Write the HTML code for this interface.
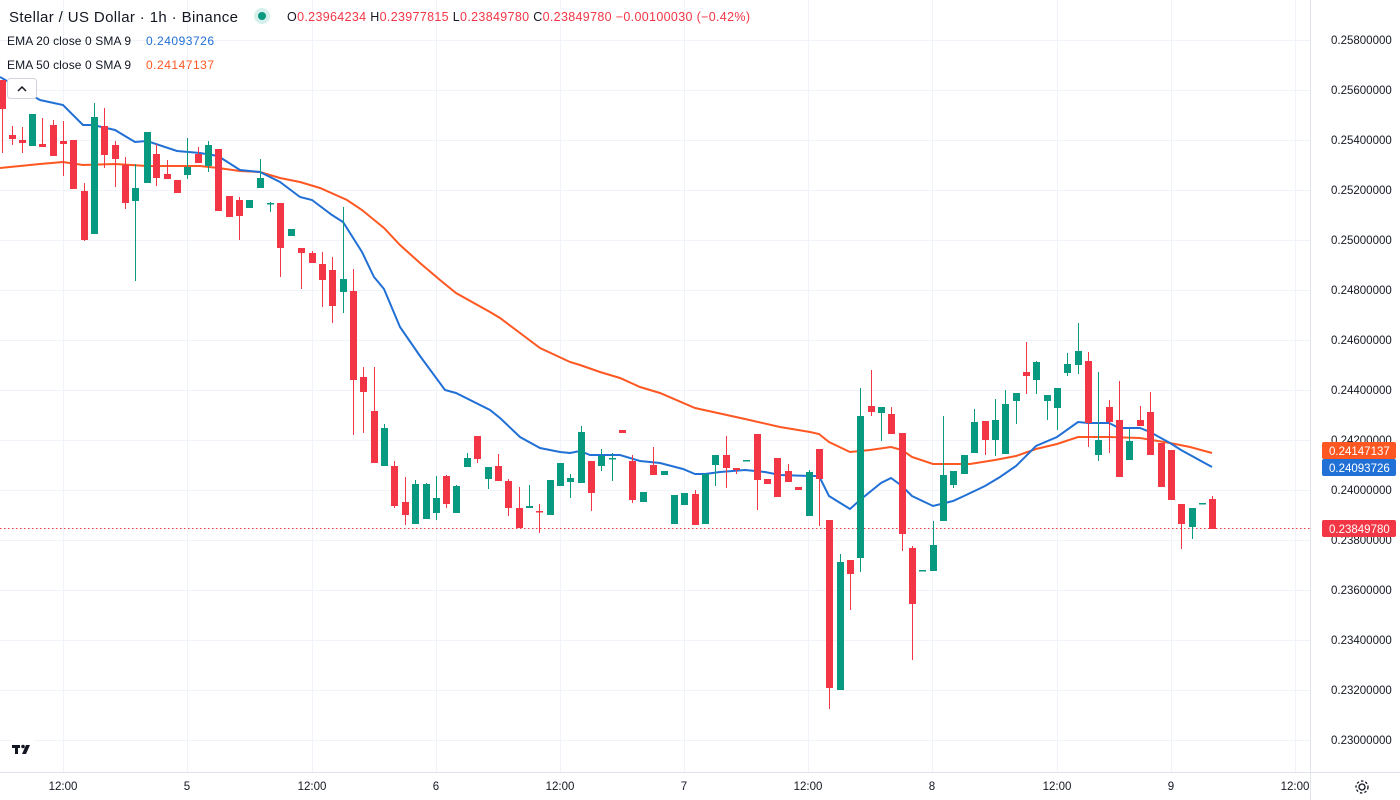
<!DOCTYPE html>
<html><head><meta charset="utf-8"><style>
html,body{margin:0;padding:0;background:#fff;}
svg{display:block;font-family:"Liberation Sans",sans-serif;}
</style></head><body>
<svg width="1400" height="800" viewBox="0 0 1400 800" xmlns="http://www.w3.org/2000/svg">
<rect width="1400" height="800" fill="#fff"/>
<g stroke="#f0f3fa" stroke-width="1">
<line x1="0" y1="40.5" x2="1310" y2="40.5"/><line x1="0" y1="90.5" x2="1310" y2="90.5"/><line x1="0" y1="140.5" x2="1310" y2="140.5"/><line x1="0" y1="190.5" x2="1310" y2="190.5"/><line x1="0" y1="240.5" x2="1310" y2="240.5"/><line x1="0" y1="290.5" x2="1310" y2="290.5"/><line x1="0" y1="340.5" x2="1310" y2="340.5"/><line x1="0" y1="390.5" x2="1310" y2="390.5"/><line x1="0" y1="440.5" x2="1310" y2="440.5"/><line x1="0" y1="490.5" x2="1310" y2="490.5"/><line x1="0" y1="540.5" x2="1310" y2="540.5"/><line x1="0" y1="590.5" x2="1310" y2="590.5"/><line x1="0" y1="640.5" x2="1310" y2="640.5"/><line x1="0" y1="690.5" x2="1310" y2="690.5"/><line x1="0" y1="740.5" x2="1310" y2="740.5"/>
<line x1="63.5" y1="0" x2="63.5" y2="772"/><line x1="187.5" y1="0" x2="187.5" y2="772"/><line x1="312.5" y1="0" x2="312.5" y2="772"/><line x1="436.5" y1="0" x2="436.5" y2="772"/><line x1="560.5" y1="0" x2="560.5" y2="772"/><line x1="684.5" y1="0" x2="684.5" y2="772"/><line x1="808.5" y1="0" x2="808.5" y2="772"/><line x1="932.5" y1="0" x2="932.5" y2="772"/><line x1="1057.5" y1="0" x2="1057.5" y2="772"/><line x1="1171.5" y1="0" x2="1171.5" y2="772"/><line x1="1295.5" y1="0" x2="1295.5" y2="772"/>
</g>
<line x1="1310.5" y1="0" x2="1310.5" y2="800" stroke="#e0e3eb"/>
<line x1="0" y1="772.5" x2="1400" y2="772.5" stroke="#e0e3eb"/>
<line x1="0" y1="528.5" x2="1310" y2="528.5" stroke="#f23645" stroke-dasharray="1.5,2.5"/>

<polyline fill="none" stroke="#ff5722" stroke-width="2" points="0,168 40,164 63,162 83,165 115,164 147,166 200,166 218,168 240,171 260,172 280,178 300,182 320,188 347,200 362,210 384,228 400,245 420,263 440,280 456,293 490,312 500,318 520,333 540,348 570,362 580,365 600,372 620,378 640,387 660,393 695,408 745,419 780,427 810,432 819,434 829,442 850,452 870,450 891,447 902,450 912,457 933,464 970,464 995,460 1016,456 1036,449 1057,444 1078,437 1109,437 1140,438 1170,443 1190,447 1212,453"/>
<polyline fill="none" stroke="#2170d6" stroke-width="2" points="0,77 40,100 63,105 83,125 93,125 115,130 135,142 147,141 177,151 200,153 218,156 240,170 260,172 280,182 300,197 312,200 332,215 343,222 362,252 374,277 384,289 400,327 420,356 445,390 456,393 490,410 500,418 520,437 540,448 560,452 570,453 580,451 590,455 620,455 640,461 660,463 683,469 695,474 705,474 720,472 745,470 765,472 780,475 810,476 819,476 829,496 850,509 860,500 881,483 891,478 902,486 912,496 933,506 953,501 964,496 985,486 1000,477 1016,466 1036,446 1057,437 1078,422 1088,423 1109,423 1119,428 1140,428 1150,432 1170,443 1181,450 1212,467"/>

<g id="c">
<g fill="#f23645" stroke="#f23645">
<line x1="2.5" y1="80" x2="2.5" y2="153"/><rect x="-1" y="80" width="7" height="29" stroke="none"/>
<line x1="12.5" y1="126" x2="12.5" y2="145"/><rect x="9" y="135" width="7" height="4" stroke="none"/>
<line x1="22.5" y1="127" x2="22.5" y2="153"/><rect x="19" y="140" width="7" height="3" stroke="none"/>
<line x1="42.5" y1="118" x2="42.5" y2="147"/><rect x="39" y="144" width="7" height="3" stroke="none"/>
<line x1="53.5" y1="120" x2="53.5" y2="156"/><rect x="50" y="125" width="7" height="31" stroke="none"/>
<line x1="63.5" y1="121" x2="63.5" y2="176"/><rect x="60" y="141" width="7" height="3" stroke="none"/>
<rect x="70" y="140" width="7" height="49" stroke="none"/>
<line x1="84.5" y1="183" x2="84.5" y2="241"/><rect x="81" y="191" width="7" height="49" stroke="none"/>
<line x1="104.5" y1="108" x2="104.5" y2="168"/><rect x="101" y="126" width="7" height="29" stroke="none"/>
<line x1="115.5" y1="141" x2="115.5" y2="187"/><rect x="112" y="145" width="7" height="14" stroke="none"/>
<line x1="125.5" y1="157" x2="125.5" y2="209"/><rect x="122" y="165" width="7" height="38" stroke="none"/>
<line x1="156.5" y1="144" x2="156.5" y2="186"/><rect x="153" y="154" width="7" height="24" stroke="none"/>
<line x1="167.5" y1="160" x2="167.5" y2="179"/><rect x="164" y="174" width="7" height="5" stroke="none"/>
<rect x="174" y="180" width="7" height="13" stroke="none"/>
<line x1="198.5" y1="147" x2="198.5" y2="163"/><rect x="195" y="154" width="7" height="9" stroke="none"/>
<rect x="215" y="149" width="7" height="62" stroke="none"/>
<rect x="226" y="196" width="7" height="21" stroke="none"/>
<line x1="239.5" y1="197" x2="239.5" y2="240"/><rect x="236" y="200" width="7" height="16" stroke="none"/>
<line x1="280.5" y1="203" x2="280.5" y2="277"/><rect x="277" y="203" width="7" height="45" stroke="none"/>
<line x1="301.5" y1="248" x2="301.5" y2="289"/><rect x="298" y="248" width="7" height="5" stroke="none"/>
<line x1="312.5" y1="251" x2="312.5" y2="263"/><rect x="309" y="253" width="7" height="10" stroke="none"/>
<line x1="322.5" y1="252" x2="322.5" y2="307"/><rect x="319" y="264" width="7" height="16" stroke="none"/>
<line x1="332.5" y1="257" x2="332.5" y2="323"/><rect x="329" y="270" width="7" height="36" stroke="none"/>
<line x1="353.5" y1="269" x2="353.5" y2="435"/><rect x="350" y="291" width="7" height="89" stroke="none"/>
<line x1="363.5" y1="367" x2="363.5" y2="433"/><rect x="360" y="377" width="7" height="15" stroke="none"/>
<line x1="374.5" y1="367" x2="374.5" y2="463"/><rect x="371" y="411" width="7" height="52" stroke="none"/>
<line x1="394.5" y1="461" x2="394.5" y2="508"/><rect x="391" y="466" width="7" height="40" stroke="none"/>
<line x1="405.5" y1="477" x2="405.5" y2="525"/><rect x="402" y="502" width="7" height="13" stroke="none"/>
<line x1="446.5" y1="475" x2="446.5" y2="508"/><rect x="443" y="476" width="7" height="28" stroke="none"/>
<line x1="477.5" y1="436" x2="477.5" y2="463"/><rect x="474" y="436" width="7" height="23" stroke="none"/>
<line x1="498.5" y1="454" x2="498.5" y2="481"/><rect x="495" y="466" width="7" height="15" stroke="none"/>
<line x1="508.5" y1="479" x2="508.5" y2="516"/><rect x="505" y="481" width="7" height="27" stroke="none"/>
<line x1="519.5" y1="487" x2="519.5" y2="528"/><rect x="516" y="508" width="7" height="20" stroke="none"/>
<line x1="539.5" y1="504" x2="539.5" y2="533"/><rect x="536" y="511" width="7" height="1.5" stroke="none"/>
<line x1="591.5" y1="461" x2="591.5" y2="511"/><rect x="588" y="461" width="7" height="32" stroke="none"/>
<rect x="619" y="430" width="7" height="3" stroke="none"/>
<line x1="632.5" y1="455" x2="632.5" y2="503"/><rect x="629" y="461" width="7" height="39" stroke="none"/>
<line x1="653.5" y1="447" x2="653.5" y2="475"/><rect x="650" y="465" width="7" height="10" stroke="none"/>
<line x1="695.5" y1="490" x2="695.5" y2="525"/><rect x="692" y="494" width="7" height="31" stroke="none"/>
<line x1="726.5" y1="436" x2="726.5" y2="488"/><rect x="723" y="455" width="7" height="13" stroke="none"/>
<line x1="736.5" y1="468" x2="736.5" y2="474"/><rect x="733" y="468" width="7" height="2" stroke="none"/>
<line x1="757.5" y1="434" x2="757.5" y2="510"/><rect x="754" y="434" width="7" height="46" stroke="none"/>
<rect x="764" y="479" width="7" height="5" stroke="none"/>
<rect x="774" y="458" width="7" height="39" stroke="none"/>
<line x1="788.5" y1="464" x2="788.5" y2="482"/><rect x="785" y="471" width="7" height="11" stroke="none"/>
<rect x="795" y="487" width="7" height="3" stroke="none"/>
<line x1="819.5" y1="449" x2="819.5" y2="526"/><rect x="816" y="449" width="7" height="30" stroke="none"/>
<line x1="829.5" y1="520" x2="829.5" y2="709"/><rect x="826" y="520" width="7" height="168" stroke="none"/>
<line x1="850.5" y1="560" x2="850.5" y2="610"/><rect x="847" y="560" width="7" height="14" stroke="none"/>
<line x1="871.5" y1="370" x2="871.5" y2="416"/><rect x="868" y="406" width="7" height="6" stroke="none"/>
<line x1="891.5" y1="407" x2="891.5" y2="434"/><rect x="888" y="414" width="7" height="20" stroke="none"/>
<line x1="902.5" y1="433" x2="902.5" y2="551"/><rect x="899" y="433" width="7" height="101" stroke="none"/>
<line x1="912.5" y1="546" x2="912.5" y2="660"/><rect x="909" y="548" width="7" height="56" stroke="none"/>
<line x1="985.5" y1="421" x2="985.5" y2="455"/><rect x="982" y="421" width="7" height="19" stroke="none"/>
<line x1="1026.5" y1="342" x2="1026.5" y2="394"/><rect x="1023" y="372" width="7" height="4" stroke="none"/>
<line x1="1088.5" y1="352" x2="1088.5" y2="447"/><rect x="1085" y="361" width="7" height="62" stroke="none"/>
<line x1="1109.5" y1="400" x2="1109.5" y2="453"/><rect x="1106" y="407" width="7" height="15" stroke="none"/>
<line x1="1119.5" y1="381" x2="1119.5" y2="477"/><rect x="1116" y="420" width="7" height="57" stroke="none"/>
<line x1="1140.5" y1="406" x2="1140.5" y2="426"/><rect x="1137" y="420" width="7" height="6" stroke="none"/>
<line x1="1150.5" y1="392" x2="1150.5" y2="455"/><rect x="1147" y="412" width="7" height="43" stroke="none"/>
<rect x="1158" y="443" width="7" height="44" stroke="none"/>
<rect x="1168" y="450" width="7" height="50" stroke="none"/>
<line x1="1181.5" y1="504" x2="1181.5" y2="549"/><rect x="1178" y="504" width="7" height="20" stroke="none"/>
<line x1="1212.5" y1="496" x2="1212.5" y2="529"/><rect x="1209" y="499" width="7" height="30" stroke="none"/>
</g>
<g fill="#089981" stroke="#089981">
<rect x="29" y="114" width="7" height="32" stroke="none"/>
<line x1="94.5" y1="103" x2="94.5" y2="234"/><rect x="91" y="117" width="7" height="117" stroke="none"/>
<line x1="135.5" y1="164" x2="135.5" y2="281"/><rect x="132" y="188" width="7" height="13" stroke="none"/>
<rect x="144" y="132" width="7" height="51" stroke="none"/>
<line x1="187.5" y1="138" x2="187.5" y2="179"/><rect x="184" y="167" width="7" height="8" stroke="none"/>
<line x1="208.5" y1="141" x2="208.5" y2="172"/><rect x="205" y="145" width="7" height="21" stroke="none"/>
<rect x="246" y="200" width="7" height="8" stroke="none"/>
<line x1="260.5" y1="159" x2="260.5" y2="188"/><rect x="257" y="178" width="7" height="10" stroke="none"/>
<line x1="270.5" y1="202" x2="270.5" y2="212"/><rect x="267" y="203" width="7" height="1.5" stroke="none"/>
<rect x="288" y="229" width="7" height="7" stroke="none"/>
<line x1="343.5" y1="207" x2="343.5" y2="313"/><rect x="340" y="279" width="7" height="13" stroke="none"/>
<line x1="384.5" y1="424" x2="384.5" y2="466"/><rect x="381" y="428" width="7" height="38" stroke="none"/>
<line x1="415.5" y1="480" x2="415.5" y2="524"/><rect x="412" y="484" width="7" height="40" stroke="none"/>
<line x1="426.5" y1="483" x2="426.5" y2="519"/><rect x="423" y="484" width="7" height="35" stroke="none"/>
<line x1="436.5" y1="476" x2="436.5" y2="520"/><rect x="433" y="498" width="7" height="15" stroke="none"/>
<line x1="456.5" y1="485" x2="456.5" y2="513"/><rect x="453" y="486" width="7" height="27" stroke="none"/>
<line x1="467.5" y1="453" x2="467.5" y2="467"/><rect x="464" y="458" width="7" height="9" stroke="none"/>
<line x1="488.5" y1="467" x2="488.5" y2="489"/><rect x="485" y="467" width="7" height="12" stroke="none"/>
<line x1="529.5" y1="485" x2="529.5" y2="508"/><rect x="526" y="506" width="7" height="2" stroke="none"/>
<rect x="547" y="480" width="7" height="35" stroke="none"/>
<rect x="557" y="463" width="7" height="23" stroke="none"/>
<line x1="570.5" y1="474" x2="570.5" y2="498"/><rect x="567" y="478" width="7" height="4" stroke="none"/>
<line x1="581.5" y1="426" x2="581.5" y2="483"/><rect x="578" y="432" width="7" height="51" stroke="none"/>
<line x1="601.5" y1="449" x2="601.5" y2="471"/><rect x="598" y="456" width="7" height="10" stroke="none"/>
<line x1="612.5" y1="453" x2="612.5" y2="481"/><rect x="609" y="458" width="7" height="1.5" stroke="none"/>
<rect x="640" y="492" width="7" height="10" stroke="none"/>
<rect x="661" y="471" width="7" height="4" stroke="none"/>
<rect x="671" y="495" width="7" height="29" stroke="none"/>
<rect x="681" y="493" width="7" height="12" stroke="none"/>
<rect x="702" y="474" width="7" height="50" stroke="none"/>
<line x1="715.5" y1="455" x2="715.5" y2="486"/><rect x="712" y="455" width="7" height="10" stroke="none"/>
<rect x="743" y="460" width="7" height="1.5" stroke="none"/>
<line x1="809.5" y1="470" x2="809.5" y2="516"/><rect x="806" y="472" width="7" height="44" stroke="none"/>
<line x1="840.5" y1="554" x2="840.5" y2="690"/><rect x="837" y="562" width="7" height="128" stroke="none"/>
<line x1="860.5" y1="388" x2="860.5" y2="572"/><rect x="857" y="416" width="7" height="142" stroke="none"/>
<line x1="881.5" y1="407" x2="881.5" y2="441"/><rect x="878" y="407" width="7" height="6" stroke="none"/>
<rect x="919" y="570" width="7" height="1.5" stroke="none"/>
<line x1="933.5" y1="521" x2="933.5" y2="571"/><rect x="930" y="545" width="7" height="26" stroke="none"/>
<line x1="943.5" y1="416" x2="943.5" y2="521"/><rect x="940" y="475" width="7" height="46" stroke="none"/>
<line x1="953.5" y1="471" x2="953.5" y2="488"/><rect x="950" y="471" width="7" height="14" stroke="none"/>
<rect x="961" y="455" width="7" height="19" stroke="none"/>
<line x1="974.5" y1="409" x2="974.5" y2="453"/><rect x="971" y="422" width="7" height="31" stroke="none"/>
<line x1="995.5" y1="399" x2="995.5" y2="456"/><rect x="992" y="420" width="7" height="20" stroke="none"/>
<line x1="1005.5" y1="390" x2="1005.5" y2="454"/><rect x="1002" y="404" width="7" height="50" stroke="none"/>
<line x1="1016.5" y1="393" x2="1016.5" y2="424"/><rect x="1013" y="393" width="7" height="8" stroke="none"/>
<line x1="1036.5" y1="361" x2="1036.5" y2="394"/><rect x="1033" y="362" width="7" height="18" stroke="none"/>
<line x1="1047.5" y1="395" x2="1047.5" y2="420"/><rect x="1044" y="395" width="7" height="6" stroke="none"/>
<line x1="1057.5" y1="388" x2="1057.5" y2="430"/><rect x="1054" y="388" width="7" height="20" stroke="none"/>
<line x1="1067.5" y1="353" x2="1067.5" y2="376"/><rect x="1064" y="364" width="7" height="9" stroke="none"/>
<line x1="1078.5" y1="323" x2="1078.5" y2="374"/><rect x="1075" y="351" width="7" height="14" stroke="none"/>
<line x1="1098.5" y1="372" x2="1098.5" y2="461"/><rect x="1095" y="440" width="7" height="15" stroke="none"/>
<line x1="1129.5" y1="429" x2="1129.5" y2="460"/><rect x="1126" y="441" width="7" height="19" stroke="none"/>
<line x1="1192.5" y1="508" x2="1192.5" y2="539"/><rect x="1189" y="508" width="7" height="19" stroke="none"/>
<rect x="1199" y="503" width="7" height="1.5" stroke="none"/>
</g>
</g>

<!-- header -->
<text x="9" y="22" font-size="15" fill="#131722" textLength="229">Stellar / US Dollar · 1h · Binance</text>
<circle cx="262" cy="16" r="8" fill="#d6f0eb"/><circle cx="262" cy="16" r="4" fill="#089981"/>
<text x="287" y="21" font-size="12.5" fill="#f23645" textLength="463"><tspan fill="#131722">O</tspan>0.23964234 <tspan fill="#131722">H</tspan>0.23977815 <tspan fill="#131722">L</tspan>0.23849780 <tspan fill="#131722">C</tspan>0.23849780 −0.00100030 (−0.42%)</text>
<text x="7" y="45" font-size="12" fill="#131722" textLength="124">EMA 20 close 0 SMA 9</text>
<text x="146" y="45" font-size="12" fill="#2170d6" textLength="68">0.24093726</text>
<text x="7" y="69" font-size="12" fill="#131722" textLength="124">EMA 50 close 0 SMA 9</text>
<text x="146" y="69" font-size="12" fill="#ff5722" textLength="68">0.24147137</text>
<rect x="7.5" y="78.5" width="29" height="20" rx="3" fill="#fff" stroke="#d1d4dc"/>
<polyline points="18,91 22,87 26,91" fill="none" stroke="#131722" stroke-width="1.5"/>

<!-- price axis -->
<g font-size="11.5" fill="#131722">
<text x="1331" y="44">0.25800000</text><text x="1331" y="94">0.25600000</text><text x="1331" y="144">0.25400000</text><text x="1331" y="194">0.25200000</text><text x="1331" y="244">0.25000000</text><text x="1331" y="294">0.24800000</text><text x="1331" y="344">0.24600000</text><text x="1331" y="394">0.24400000</text><text x="1331" y="444">0.24200000</text><text x="1331" y="494">0.24000000</text><text x="1331" y="544">0.23800000</text><text x="1331" y="594">0.23600000</text><text x="1331" y="644">0.23400000</text><text x="1331" y="694">0.23200000</text><text x="1331" y="744">0.23000000</text>
</g>
<rect x="1322" y="442" width="74" height="17" rx="2" fill="#ff5722"/><text x="1329" y="455" font-size="11.5" fill="#fff">0.24147137</text>
<rect x="1322" y="459" width="74" height="17" rx="2" fill="#2170d6"/><text x="1329" y="472" font-size="11.5" fill="#fff">0.24093726</text>
<rect x="1322" y="520" width="74" height="17" rx="2" fill="#f23645"/><text x="1329" y="533" font-size="11.5" fill="#fff">0.23849780</text>

<!-- time axis -->
<g font-size="11.5" fill="#131722" text-anchor="middle">
<text x="63" y="790">12:00</text><text x="187" y="790">5</text><text x="312" y="790">12:00</text><text x="436" y="790">6</text><text x="560" y="790">12:00</text><text x="684" y="790">7</text><text x="808" y="790">12:00</text><text x="932" y="790">8</text><text x="1057" y="790">12:00</text><text x="1171" y="790">9</text><text x="1295" y="790">12:00</text>
</g>
<g transform="translate(1362,787)" stroke="#131722" fill="none" stroke-width="1.3">
<circle r="3"/><circle r="6" stroke-dasharray="2.5,2"/>
</g>
<!-- TV logo -->
<circle cx="23" cy="750" r="15" fill="#fff"/>
<g fill="#131722"><rect x="12" y="745" width="8" height="3"/><rect x="15" y="745" width="3" height="9"/><circle cx="23" cy="746.5" r="1.8"/><polygon points="26,745 30,745 26,754 22,754"/></g>
</svg>
</body></html>
